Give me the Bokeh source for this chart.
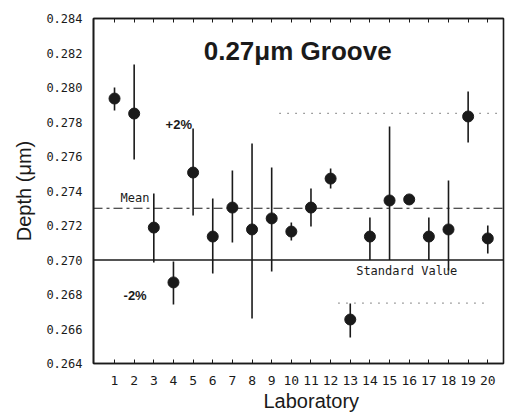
from bokeh.plotting import figure
from bokeh.models import Range1d, FixedTicker, LinearAxis, Label, PrintfTickFormatter, Title
from bokeh.embed import file_html
from bokeh.resources import INLINE

# ---- data ----
labs = list(range(1, 21))
depth = [0.27936, 0.27849, 0.27188, 0.26870, 0.27507, 0.27136, 0.27304, 0.27177, 0.27241, 0.27165,
         0.27304, 0.27472, 0.26655, 0.27136, 0.27345, 0.27351, 0.27136, 0.27177, 0.27832, 0.27125]
upper = [0.28000, 0.28133, 0.27386, 0.26991, 0.27762, 0.27357, 0.27519, 0.27675, 0.27536, 0.27217,
         0.27414, 0.27530, 0.26748, 0.27246, 0.27774, 0.27365, 0.27246, 0.27461, 0.27977, 0.27200]
lower = [0.27867, 0.27583, 0.26986, 0.26742, 0.27258, 0.26922, 0.27101, 0.26661, 0.26933, 0.27113,
         0.27194, 0.27414, 0.26551, 0.27000, 0.27000, 0.27337, 0.27000, 0.26939, 0.27681, 0.27038]

standard_value = 0.2700
mean_value = 0.2730
plus_2pct = 0.2785
minus_2pct = 0.2675

y_ticks = [0.264, 0.266, 0.268, 0.270, 0.272, 0.274, 0.276, 0.278, 0.280, 0.282, 0.284]

title_text = "0.27\u03bcm  Groove"
x_title = "Laboratory"
y_title = "Depth (\u03bcm)"

INK = "#1a1a1a"

p = figure(frame_width=410, frame_height=345,
           x_range=Range1d(-0.07, 20.8), y_range=Range1d(0.264, 0.284),
           output_backend="svg", toolbar_location=None,
           min_border_left=93, min_border_right=5, min_border_top=18, min_border_bottom=50)

p.xgrid.visible = False
p.ygrid.visible = False
p.outline_line_color = INK
p.outline_line_width = 1.6
p.background_fill_color = "white"
p.border_fill_color = "white"

# x axis
p.xaxis.ticker = FixedTicker(ticks=labs)
p.xaxis.major_tick_in = 4
p.xaxis.major_tick_out = 0
p.xaxis.minor_tick_line_color = None
p.xaxis.axis_line_color = INK
p.xaxis.axis_line_width = 1.6
p.xaxis.major_tick_line_color = INK
p.xaxis.major_label_text_font = "DejaVu Sans Mono"
p.xaxis.major_label_text_font_size = "13px"
p.xaxis.major_label_text_color = INK
p.xaxis.major_label_standoff = 12

# x axis title, placed below the tick labels
p.add_layout(Title(text=x_title, align="left", offset=170, standoff=0,
                   text_font="Liberation Sans", text_font_style="normal",
                   text_font_size="20px", text_color=INK), "below")

# top axis with ticks only
top = LinearAxis(ticker=FixedTicker(ticks=labs), major_tick_in=4, major_tick_out=0,
                 minor_tick_line_color=None, axis_line_color=INK, axis_line_width=1.6,
                 major_tick_line_color=INK, major_label_text_alpha=0, major_label_text_font_size="1px",
                 major_label_standoff=0)
p.add_layout(top, "above")

# y axis
p.yaxis.ticker = FixedTicker(ticks=y_ticks)
p.yaxis.formatter = PrintfTickFormatter(format="%.3f")
p.yaxis.major_tick_in = 0
p.yaxis.major_tick_out = 0
p.yaxis.minor_tick_line_color = None
p.yaxis.axis_line_color = INK
p.yaxis.axis_line_width = 1.6
p.yaxis.major_label_text_font = "DejaVu Sans Mono"
p.yaxis.major_label_text_font_size = "12px"
p.yaxis.major_label_text_color = INK
p.yaxis.major_label_standoff = 11
p.yaxis.axis_label = y_title
p.yaxis.axis_label_text_font = "Liberation Sans"
p.yaxis.axis_label_text_font_style = "normal"
p.yaxis.axis_label_text_font_size = "20px"
p.yaxis.axis_label_text_color = INK
p.yaxis.axis_label_standoff = 8

# reference lines
p.line(x=[-0.07, 20.8], y=[standard_value, standard_value], line_color=INK, line_width=1.6)
p.line(x=[-0.07, 20.8], y=[mean_value, mean_value], line_color=INK, line_width=1.2,
       line_dash="9 4 3 4")
p.line(x=[9.4, 20.6], y=[plus_2pct, plus_2pct], line_color=INK, line_width=1.2,
       line_dash="1 7", line_alpha=0.8)
p.line(x=[12.4, 20.0], y=[minus_2pct, minus_2pct], line_color=INK, line_width=1.2,
       line_dash="1 7", line_alpha=0.8)

# error bars and points
p.segment(x0=labs, y0=lower, x1=labs, y1=upper, line_color=INK, line_width=1.6)
p.scatter(x=labs, y=depth, size=11, fill_color=INK, line_color=INK)

# texts
p.add_layout(Label(x=5.54, y=0.28209, text=title_text, text_font="Liberation Sans",
                   text_font_style="bold", text_font_size="26px", text_color=INK,
                   text_baseline="middle"))
p.add_layout(Label(x=1.31, y=0.27357, text="Mean", text_font="DejaVu Sans Mono",
                   text_font_size="12px", text_color=INK, text_baseline="middle"))
p.add_layout(Label(x=3.6, y=0.27786, text="+2%", text_font="Liberation Sans",
                   text_font_style="bold", text_font_size="13px", text_color=INK,
                   text_baseline="middle"))
p.add_layout(Label(x=1.46, y=0.26794, text="-2%", text_font="Liberation Sans",
                   text_font_style="bold", text_font_size="13px", text_color=INK,
                   text_baseline="middle"))
p.add_layout(Label(x=13.3, y=0.26939, text="Standard Value", text_font="DejaVu Sans Mono",
                   text_font_size="12px", text_color=INK, text_baseline="middle"))

open("out.html", "w").write(file_html(p, INLINE))
